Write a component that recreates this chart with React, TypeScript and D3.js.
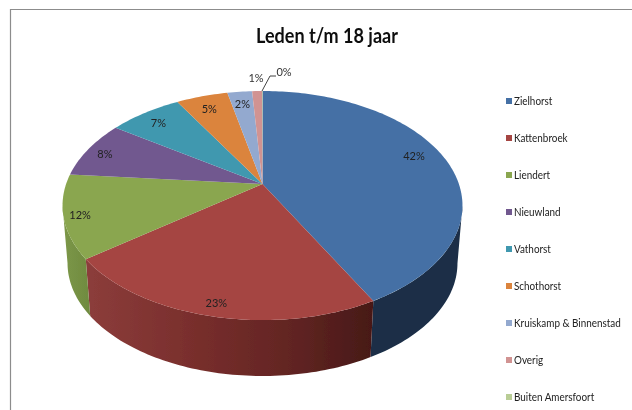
import React from 'react';
import * as d3 from 'd3';

const categories = ['Zielhorst', 'Kattenbroek', 'Liendert', 'Nieuwland', 'Vathorst', 'Schothorst', 'Kruiskamp & Binnenstad', 'Overig', 'Buiten Amersfoort'];
const shares = [42.2, 22.5, 11.7, 8.1, 7.1, 5, 2.4, 0.95, 0.05];
const percentLabels = ['42%', '23%', '12%', '8%', '7%', '5%', '2%', '1%', '0%'];
const colors = ['#4470a5', '#a54542', '#8aa64f', '#71588f', '#4198af', '#db843d', '#93a9cf', '#d19392', '#b9cd96'];

const width = 632;
const height = 410;
const font = 'Lato, "Open Sans", sans-serif';

// perspective of the disc: near edge is drawn larger than the far edge
const k = 0.188;
const cx = 262.5;
const topY = 184;
const A = 196.4;
const B = 110.5;

// where each inside label sits: fraction of the disc radius, and turn away from the slice middle
const labelRadius = [0.86, 0.91, 0.92, 0.9, 0.87, 0.86, 0.86];
const labelTurn = [-0.09, 0, 0, 0, 0, 0, 0];

function project(angle: number, y0 = topY, a = A, b = B, r = 1): [number, number] {
  const u = Math.sin(angle) * r;
  const v = -Math.cos(angle) * r;
  const w = 1 - k * v;
  return [cx + (a * u) / w, y0 + (b * v) / w];
}

const bottom = (angle: number) => project(angle, 242, A * 0.975, 108.8);

function arcPoints(a0: number, a1: number, fn: (t: number) => [number, number]) {
  const n = Math.max(2, Math.ceil((a1 - a0) / 0.02));
  return d3.range(n + 1).map((i) => fn(a0 + ((a1 - a0) * i) / n));
}

const line = d3.line();

export default function App() {
  const slices = d3.pie<number>().sort(null)(shares);
  const wallStart = Math.acos(-k);
  const wallEnd = 2 * Math.PI - wallStart;
  const walls = slices
    .map((s, i) => ({ i, a0: Math.max(s.startAngle, wallStart), a1: Math.min(s.endAngle, wallEnd) }))
    .filter((w) => w.a1 > w.a0);

  const legendY = d3.scalePoint<number>().domain(d3.range(categories.length)).range([101, 397]);

  return (
    <svg width={width} height={height} style={{ position: 'absolute', left: 0, top: 0 }} fontFamily={font}>
      <defs>
        <linearGradient id="wall1" gradientUnits="userSpaceOnUse" x1={86} x2={373} y1={0} y2={0}>
          <stop offset="0" stopColor="#8c3d3b" />
          <stop offset="0.35" stopColor="#7a2f2d" />
          <stop offset="0.7" stopColor="#632523" />
          <stop offset="1" stopColor="#471917" />
        </linearGradient>
        <linearGradient id="wall2" gradientUnits="userSpaceOnUse" x1={62} x2={90} y1={0} y2={0}>
          <stop offset="0" stopColor="#7d9848" />
          <stop offset="1" stopColor="#6f8a40" />
        </linearGradient>
        <filter id="soft" x="0" y="0" width="100%" height="100%">
          <feGaussianBlur stdDeviation="0.35" />
        </filter>
      </defs>
      <rect x={0} y={0} width={width} height={height} fill="#fff" />
      <path d="M10.5,410V9.5H632" fill="none" stroke="#8c8c8c" strokeWidth={1.2} />
      <g filter="url(#soft)">
        <text x={327} y={43} textAnchor="middle" fontSize={21} fontWeight={700} fill="#111" textLength={142} lengthAdjust="spacingAndGlyphs">Leden t/m 18 jaar</text>

        {walls.map((w) => {
          const pts = [...arcPoints(w.a0, w.a1, (t) => project(t)), ...arcPoints(w.a0, w.a1, bottom).reverse()];
          const fill = w.i === 0 ? '#1a2e47' : `url(#wall${w.i})`;
          return <path key={categories[w.i]} d={`${line(pts)}Z`} fill={fill} />;
        })}
        {slices.map((s, i) => {
          const pts = [[cx, topY] as [number, number], ...arcPoints(s.startAngle, s.endAngle, (t) => project(t))];
          return <path key={categories[i]} d={`${line(pts)}Z`} fill={colors[i]} />;
        })}

        {labelRadius.map((r, i) => {
          const [x, y] = project((slices[i].startAngle + slices[i].endAngle) / 2 + labelTurn[i], topY, A, B, r);
          return <text key={i} x={x} y={y + 5.5} textAnchor="middle" fontSize={11} fill="#222">{percentLabels[i]}</text>;
        })}
        <text x={256} y={82} textAnchor="middle" fontSize={11} fill="#333">{percentLabels[7]}</text>
        <text x={284} y={76} textAnchor="middle" fontSize={11} fill="#333">{percentLabels[8]}</text>
        <path d="M262,91L270,76H276" fill="none" stroke="#444" strokeWidth={1} />

        {categories.map((c, i) => {
          const y = legendY(i) as number;
          return (
            <g key={c}>
              <rect x={506} y={y - 3} width={6} height={6} fill={colors[i]} />
              <text transform={`translate(514,${y + 4}) scale(0.9,1)`} fontSize={11} fill="#222">{c}</text>
            </g>
          );
        })}
      </g>
    </svg>
  );
}
